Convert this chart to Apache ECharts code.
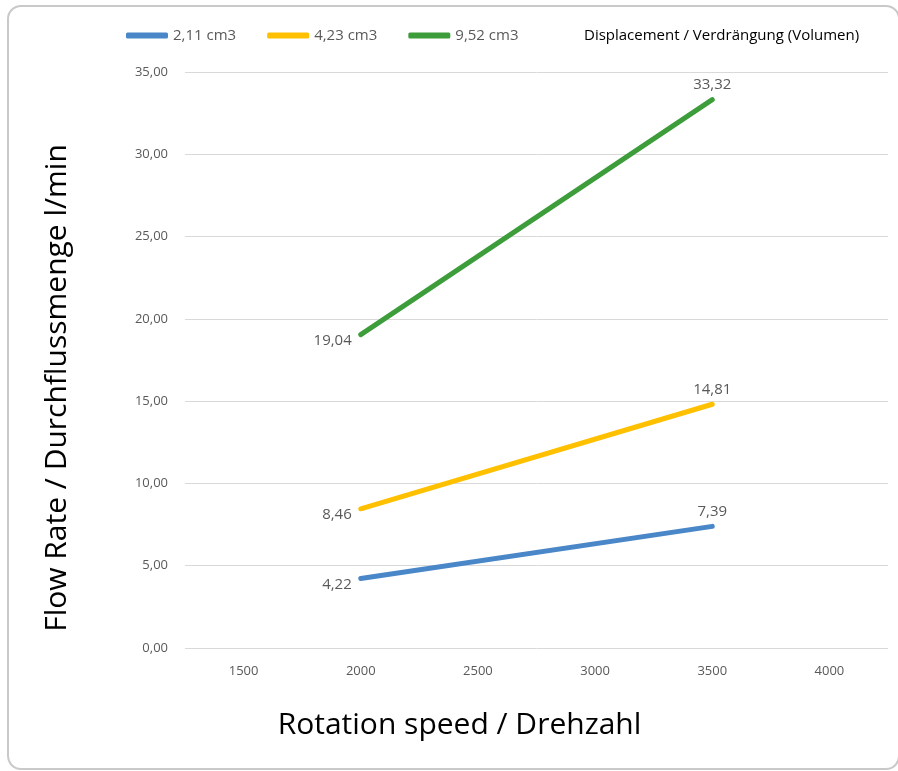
<!DOCTYPE html>
<html>
<head>
<meta charset="utf-8">
<script src="https://cdn.jsdelivr.net/npm/echarts@6/dist/echarts.min.js"></script>
<style>
  html, body { margin: 0; padding: 0; background: #fff; }
  #frame {
    position: absolute; left: 7px; top: 5px; width: 893px; height: 765px;
    border: 2px solid #c9c9c9; border-radius: 14px; box-sizing: border-box;
  }
  #chart { position: absolute; left: 0; top: 0; width: 898px; height: 771px; }
</style>
</head>
<body>
<div id="frame"></div>
<div id="chart"></div>
<script>
// Rotation speed categories (rpm)
const speeds = ['1500', '2000', '2500', '3000', '3500', '4000'];
// Flow rate in l/min for each displacement; measured only at 2000 and 3500 rpm
const flow211 = [null, 4.22, null, null, 7.39, null];
const flow423 = [null, 8.46, null, null, 14.81, null];
const flow952 = [null, 19.04, null, null, 33.32, null];
const seriesNames = ['2,11 cm3', '4,23 cm3', '9,52 cm3'];
const yTicks = [0, 5, 10, 15, 20, 25, 30, 35];

const colors = ['#4a87c8', '#ffc000', '#3c9d3a'];
const fontFamily = '"Open Sans", "Noto Sans", sans-serif';

function fmt(v) { return v.toFixed(2).replace('.', ','); }

// The first measured point gets its label on the left, the last one above
function buildData(values) {
  const idx = values.map((v, i) => v == null ? -1 : i).filter(i => i >= 0);
  const first = idx[0];
  return values.map((v, i) => {
    if (v == null) return null;
    const lbl = i === first
      ? { position: 'left', distance: 9, offset: [0, 6] }
      : { position: 'top', distance: 7 };
    return { value: v, label: lbl };
  });
}

function makeSeries(name, values, color) {
  return {
    name: name,
    type: 'line',
    data: buildData(values),
    connectNulls: true,
    symbol: 'circle',
    symbolSize: 0,
    showSymbol: true,
    lineStyle: { color: color, width: 5, cap: 'round' },
    itemStyle: { color: color },
    label: {
      show: true,
      formatter: p => fmt(p.value),
      color: '#595959',
      fontSize: 15,
      fontFamily: fontFamily
    }
  };
}

const chart = echarts.init(document.getElementById('chart'), null, { renderer: 'canvas' });
chart.setOption({
  animation: false,
  title: {
    text: 'Displacement / Verdrängung (Volumen)',
    left: 579, top: 23,
    textStyle: { fontSize: 15, fontWeight: 'normal', color: '#000', fontFamily: fontFamily }
  },
  legend: {
    left: 121, top: 23,
    itemWidth: 42, itemHeight: 6, itemGap: 31,
    icon: 'roundRect',
    textStyle: { fontSize: 15, color: '#595959', fontFamily: fontFamily },
    data: seriesNames
  },
  grid: { left: 185, right: 10, top: 72, bottom: 123, containLabel: false },
  xAxis: {
    type: 'category',
    data: speeds,
    boundaryGap: true,
    name: 'Rotation speed / Drehzahl',
    nameLocation: 'middle',
    nameGap: 62,
    nameTextStyle: { fontSize: 30, color: '#000', fontFamily: fontFamily, padding: [0, 154, 0, 0] },
    axisLine: { show: false },
    axisTick: { show: false },
    axisLabel: { color: '#595959', fontSize: 13, margin: 17, fontFamily: fontFamily }
  },
  yAxis: {
    type: 'value',
    min: 0, max: 35, interval: 5,
    name: 'Flow Rate / Durchflussmenge l/min',
    nameLocation: 'middle',
    nameGap: 113,
    nameTextStyle: { fontSize: 30, color: '#000', fontFamily: fontFamily, padding: [0, 56, 0, 0] },
    axisLine: { show: false },
    axisTick: { show: false },
    axisLabel: {
      color: '#595959', fontSize: 13, margin: 17, fontFamily: fontFamily,
      formatter: v => yTicks.includes(v) ? fmt(v) : ''
    },
    splitLine: { lineStyle: { color: '#d9d9d9', width: 1 } }
  },
  series: [
    makeSeries(seriesNames[0], flow211, colors[0]),
    makeSeries(seriesNames[1], flow423, colors[1]),
    makeSeries(seriesNames[2], flow952, colors[2])
  ]
});
</script>
</body>
</html>
